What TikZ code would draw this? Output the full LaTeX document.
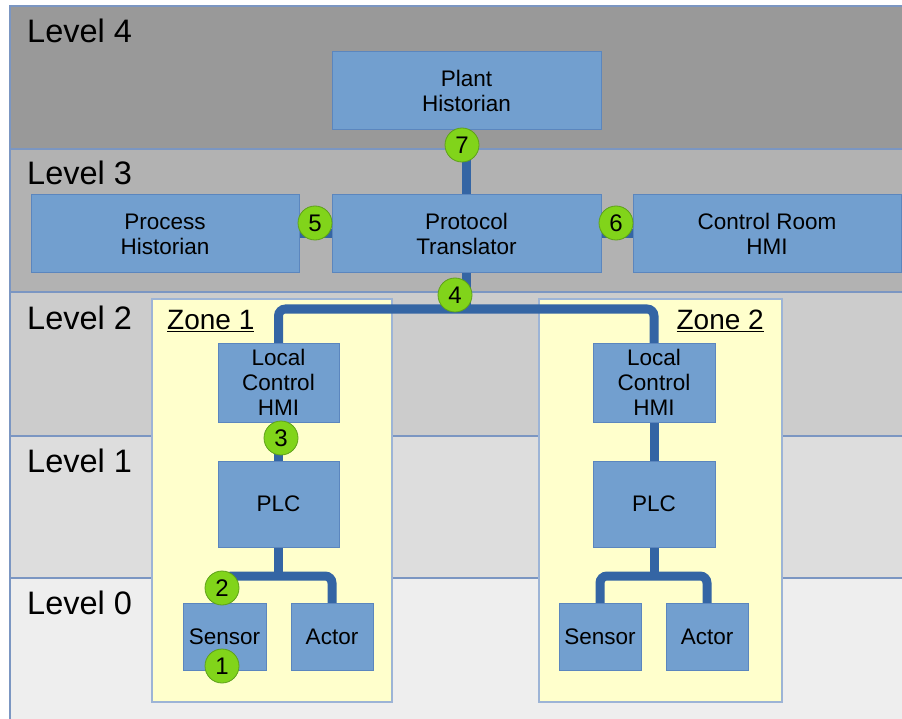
\documentclass[tikz,border=0pt]{standalone}
\usepackage{fontspec}
\setmainfont{Liberation Sans}
\definecolor{bandA}{HTML}{999999}
\definecolor{bandB}{HTML}{B2B2B2}
\definecolor{bandC}{HTML}{CCCCCC}
\definecolor{bandD}{HTML}{DDDDDD}
\definecolor{bandE}{HTML}{EEEEEE}
\definecolor{bandline}{HTML}{7B96C2}
\definecolor{zonefill}{HTML}{FFFFCC}
\definecolor{zoneline}{HTML}{9DB4D6}
\definecolor{boxfill}{HTML}{729FCF}
\definecolor{boxline}{HTML}{5B86BE}
\definecolor{wire}{HTML}{3465A4}
\definecolor{badgefill}{HTML}{81D41A}
\definecolor{badgeline}{HTML}{5EA01A}
\pgfdeclarelayer{bg}
\pgfdeclarelayer{wires}
\pgfsetlayers{bg,wires,main}
\tikzset{
  band/.style={fill=#1, draw=bandline, line width=1.2pt},
  levellabel/.style={anchor=base west, inner sep=0pt, font=\fontsize{32.5}{32.5}\selectfont},
  zone/.style={fill=zonefill, draw=zoneline, line width=1.5pt},
  zonelabel/.style={inner sep=0pt, font=\fontsize{28}{28}\selectfont},
  unit/.style={rectangle, fill=boxfill, draw=boxline, line width=1pt, inner sep=0pt, outer sep=0pt,
    align=center, font=\fontsize{22.5}{25}\selectfont},
  conn/.style={draw=wire, line width=9pt},
  badge/.style={circle, fill=badgefill, draw=badgeline, line width=0.8pt, minimum size=34pt,
    inner sep=0pt, font=\fontsize{24}{24}\selectfont}
}
\begin{document}
\begin{tikzpicture}[x=1pt, y=-1pt]
\useasboundingbox (0,0) rectangle (902,719);

% level bands
\begin{pgfonlayer}{bg}
\fill[white] (0,0) rectangle (902,719);
\path[band=bandE] (10,578) rectangle (904,721);
\path[band=bandD] (10,436) rectangle (904,578);
\path[band=bandC] (10,292) rectangle (904,436);
\path[band=bandB] (10,149) rectangle (904,292);
\path[band=bandA] (10,6) rectangle (904,149);
\node[levellabel] (l4) at (27,43) {Level 4};
\node[levellabel] (l3) at (27,185) {Level 3};
\node[levellabel] (l2) at (27,330) {Level 2};
\node[levellabel] (l1) at (27,472) {Level 1};
\node[levellabel] (l0) at (27,614) {Level 0};
% zones
\path[zone] (152,299) rectangle (392,702);
\path[zone] (539,299) rectangle (782,702);
\node[zonelabel, anchor=base west] (z1) at (167,330) {\underline{Zone 1}};
\node[zonelabel, anchor=base east] (z2) at (764,330) {\underline{Zone 2}};
\end{pgfonlayer}

% upper levels
\node[unit, minimum width=269pt, minimum height=78pt] (ph) at (466.5,91) {Plant\\Historian};
\node[unit, minimum width=268pt, minimum height=78pt] (proc) at (165,234) {Process\\Historian};
\node[unit, minimum width=269pt, minimum height=78pt] (pt) at (466.5,234) {Protocol\\Translator};
\node[unit, minimum width=268pt, minimum height=78pt] (cr) at (767,234) {Control Room\\HMI};

% zone 1
\node[unit, minimum width=121pt, minimum height=79pt] (hmi1) at (278.5,382.5) {Local\\Control\\HMI};
\node[unit, minimum width=121pt, minimum height=86pt] (plc1) at (278.5,504) {PLC};
\node[unit, minimum width=83pt, minimum height=67pt] (sen1) at (224.5,636.5) {Sensor};
\node[unit, minimum width=82pt, minimum height=67pt] (act1) at (332,636.5) {Actor};

% zone 2
\node[unit, minimum width=122pt, minimum height=79pt] (hmi2) at (654,382.5) {Local\\Control\\HMI};
\node[unit, minimum width=122pt, minimum height=86pt] (plc2) at (654,504) {PLC};
\node[unit, minimum width=82pt, minimum height=67pt] (sen2) at (600,636.5) {Sensor};
\node[unit, minimum width=82pt, minimum height=67pt] (act2) at (707,636.5) {Actor};

% junction points
\coordinate (j4) at (466.5,309);
\coordinate (s1) at (278.5,576);
\coordinate (s2) at (654,576);

% wiring
\begin{pgfonlayer}{wires}
\draw[conn] (ph.south) -- (pt.north);
\draw[conn] (proc.east) -- (pt.west);
\draw[conn] (pt.east) -- (cr.west);
\draw[conn] (pt.south) -- (j4);
\draw[conn, rounded corners=7pt] (hmi1.north) |- (j4) -| (hmi2.north);
\draw[conn] (hmi1.south) -- (plc1.north);
\draw[conn] (hmi2.south) -- (plc2.north);
\draw[conn] (plc1.south) -- (s1);
\draw[conn, rounded corners=7pt] (sen1.north) |- (s1) -| (act1.north);
\draw[conn] (plc2.south) -- (s2);
\draw[conn, rounded corners=7pt] (sen2.north) |- (s2) -| (act2.north);
\end{pgfonlayer}

% numbered markers
\node[badge] (b7) at (462,145) {7};
\node[badge] (b5) at (315,223) {5};
\node[badge] (b6) at (616,223) {6};
\node[badge] (b4) at (455,295) {4};
\node[badge] (b3) at (281,438) {3};
\node[badge] (b2) at (222,588) {2};
\node[badge] (b1) at (222,666) {1};
\end{tikzpicture}
\end{document}
